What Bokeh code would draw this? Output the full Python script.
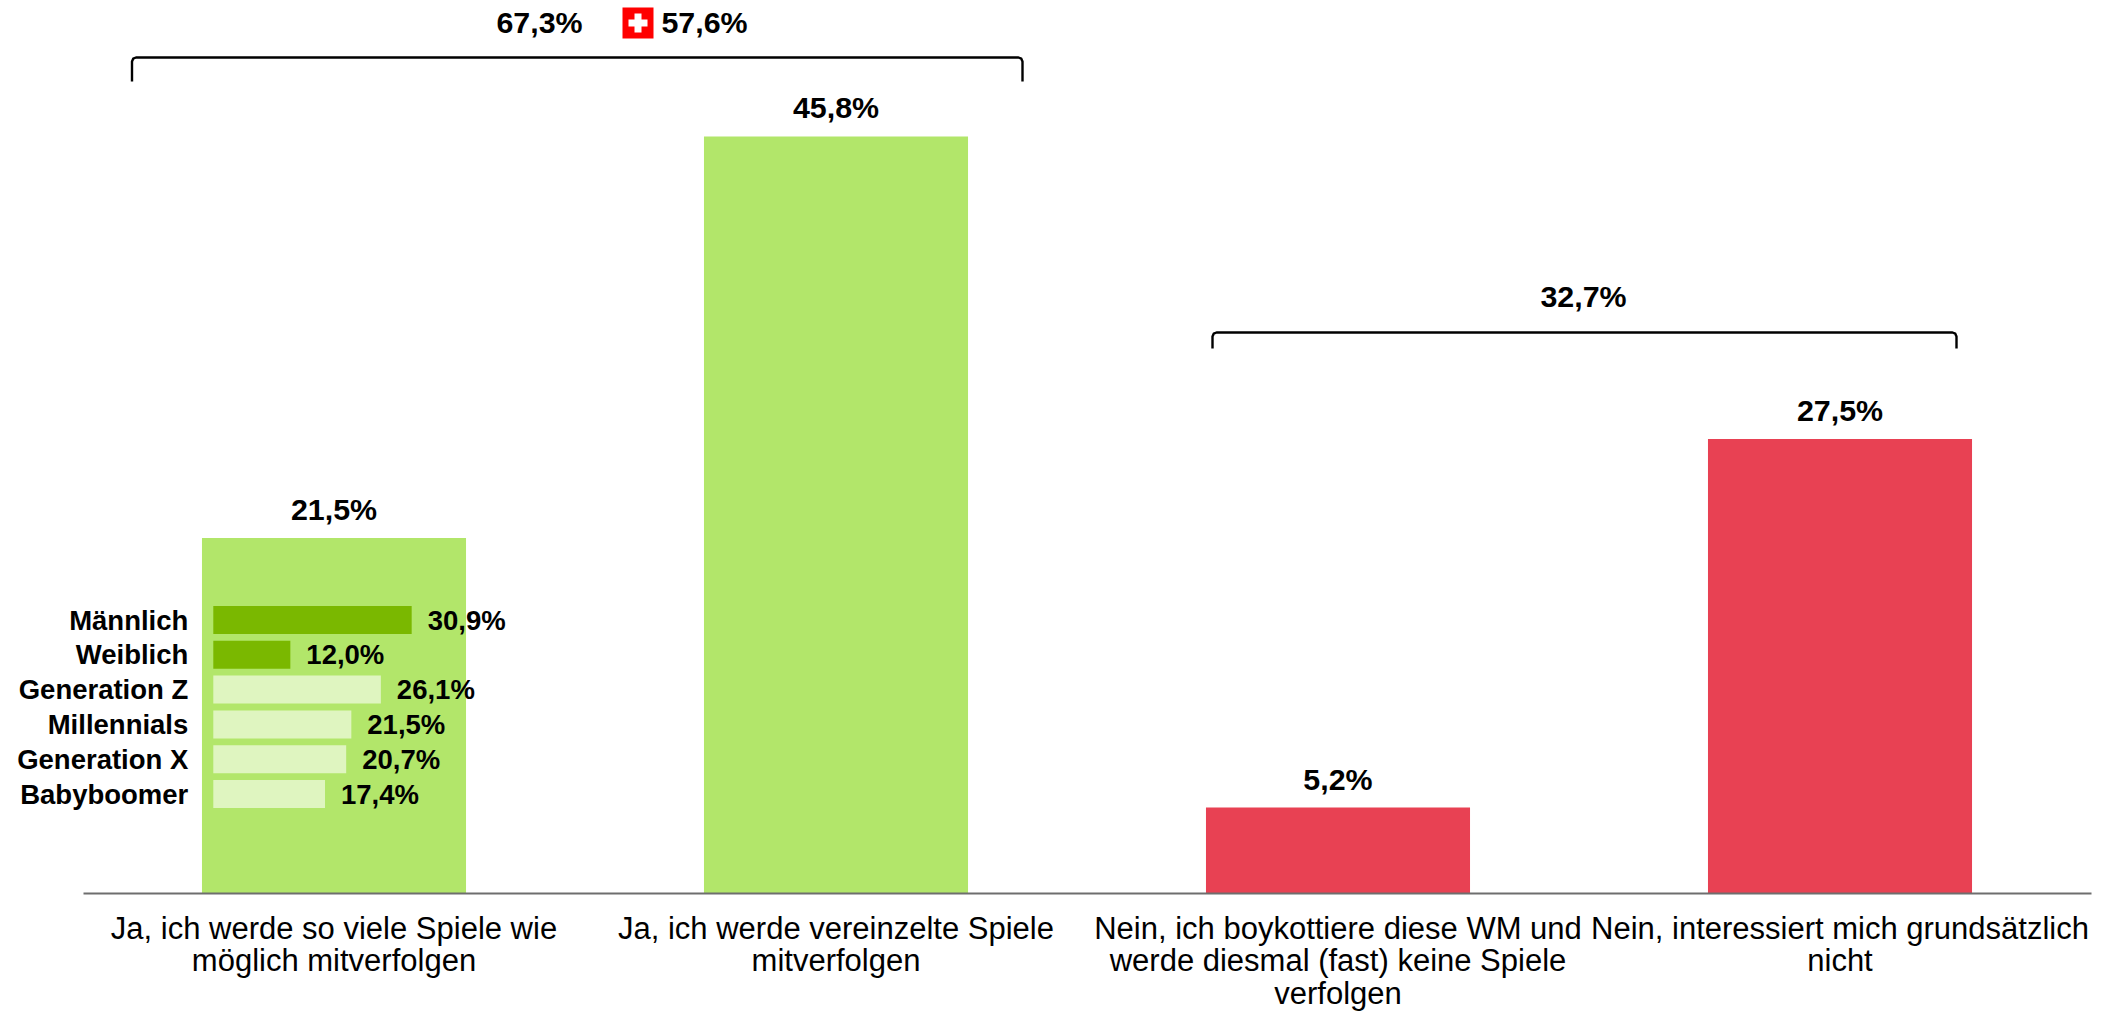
from bokeh.embed import file_html
from bokeh.resources import INLINE
from bokeh.plotting import figure
from bokeh.models import Range1d, ColumnDataSource, FixedTicker
from bokeh.core.properties import value
import numpy as np

# ---- data ----
categories = ["Ja, ich werde so viele Spiele wie\nmöglich mitverfolgen",
              "Ja, ich werde vereinzelte Spiele\nmitverfolgen",
              "Nein, ich boykottiere diese WM und\nwerde diesmal (fast) keine Spiele\nverfolgen",
              "Nein, interessiert mich grundsätzlich\nnicht"]
shares = [21.5, 45.8, 5.2, 27.5]
share_labels = ["21,5%", "45,8%", "5,2%", "27,5%"]
bar_colors = ["#B2E66A", "#B2E66A", "#E84153", "#E84153"]

groups = ["Männlich", "Weiblich", "Generation Z", "Millennials", "Generation X", "Babyboomer"]
group_shares = [30.9, 12.0, 26.1, 21.5, 20.7, 17.4]
group_labels = ["30,9%", "12,0%", "26,1%", "21,5%", "20,7%", "17,4%"]
group_colors = ["#7AB800", "#7AB800", "#DFF5C0", "#DFF5C0", "#DFF5C0", "#DFF5C0"]

total_yes, total_yes_ch, total_no = "67,3%", "57,6%", "32,7%"

FONT = value("Liberation Sans")

# ---- page geometry (page pixels) ----
W, H = 2105, 1011
B = 893                             # axis line on the page
CX0, CX_STEP = 333.5, 502           # first category centre, category step
PX_PER_PCT = 16.53                  # main bars
MINI_X0, MINI_PX = 212.8, 6.42      # small bars: zero line, px per percent
MINI_Y0, MINI_STEP = 619.5, 34.8    # small bars: first row centre, row step

p = figure(width=W, height=H, output_backend="svg", toolbar_location=None,
           x_range=Range1d((0 - CX0) / CX_STEP, (W - CX0) / CX_STEP),
           y_range=Range1d((B - H) / PX_PER_PCT, B / PX_PER_PCT),
           y_axis_location=None, outline_line_color=None, background_fill_color="white",
           min_border_left=0, min_border_right=0, min_border_top=0, min_border_bottom=0)
p.grid.visible = False

p.extra_x_ranges["page"] = Range1d(0, W)
p.extra_y_ranges["page"] = Range1d(H, 0)
p.extra_x_ranges["mini"] = Range1d((0 - MINI_X0) / MINI_PX, (W - MINI_X0) / MINI_PX)
p.extra_y_ranges["mini"] = Range1d((H - MINI_Y0) / MINI_STEP, (0 - MINI_Y0) / MINI_STEP)

# main bars
cat_pos = np.arange(len(categories))
src = ColumnDataSource(dict(x=cat_pos, y=shares, t=share_labels, c=bar_colors))
p.vbar(x="x", top="y", width=0.526, fill_color="c", line_color=None, source=src)
p.text(x="x", y="y", text="t", source=src, text_font=FONT, text_font_style="bold",
       text_font_size="30.4px", text_align="center", text_baseline="middle",
       y_offset=-29, text_color="black")

# small bars
rows = np.arange(len(groups))
mini = ColumnDataSource(dict(y=rows, w=group_shares, n=groups, t=group_labels, c=group_colors,
                             z=[0] * len(groups)))
p.hbar(y="y", right="w", left="z", height=28 / MINI_STEP, fill_color="c", line_color=None,
       source=mini, x_range_name="mini", y_range_name="mini")
p.text(x="w", y="y", text="t", source=mini, x_range_name="mini", y_range_name="mini",
       text_font=FONT, text_font_style="bold", text_font_size="27.5px",
       text_align="left", text_baseline="middle", x_offset=16, text_color="black")
p.text(x="z", y="y", text="n", source=mini, x_range_name="mini", y_range_name="mini",
       text_font=FONT, text_font_style="bold", text_font_size="27.5px",
       text_align="right", text_baseline="middle", x_offset=-25, text_color="black")

# brackets
def bracket(x0, x1, top, bottom, r=4):
    xs = [x0, x0, x0 + r * 0.3, x0 + r, x1 - r, x1 - r * 0.3, x1, x1]
    ys = [bottom, top + r, top + r * 0.3, top, top, top + r * 0.3, top + r, bottom]
    p.line(xs, ys, line_color="black", line_width=2.4, line_join="round",
           x_range_name="page", y_range_name="page")

bracket(131.5, 1022, 57, 81)
bracket(1212, 1956, 332, 348)

# bracket totals and flag
for x, y, t in [(539, 21, total_yes), (704, 21, total_yes_ch), (1583, 295, total_no)]:
    p.text(x=[x], y=[y], text=[t], x_range_name="page", y_range_name="page",
           text_font=FONT, text_font_style="bold", text_font_size="30.4px",
           text_align="center", text_baseline="middle", text_color="black")

p.quad(left=[622], right=[653], top=[7], bottom=[38], fill_color="#FF0000", line_color=None,
       x_range_name="page", y_range_name="page")
p.quad(left=[634, 628], right=[641, 647], top=[13, 19], bottom=[32, 26], fill_color="white",
       line_color=None, x_range_name="page", y_range_name="page")

# category axis, pinned at zero inside the frame
ax = p.xaxis[0]
ax.fixed_location = 0
ax.ticker = FixedTicker(ticks=[int(i) for i in cat_pos])
ax.major_label_overrides = {int(i): c for i, c in zip(cat_pos, categories)}
ax.bounds = (-0.5, 3.5)
ax.axis_line_color = "#6E6E6E"
ax.axis_line_width = 2
ax.major_tick_line_color = None
ax.minor_tick_line_color = None
ax.major_tick_in = 0
ax.major_tick_out = 0
ax.major_label_standoff = 17
ax.major_label_text_font = "Liberation Sans"
ax.major_label_text_font_size = "31px"
ax.major_label_text_color = "black"
ax.major_label_text_line_height = 0.93
ax.major_label_orientation = "horizontal"

open("out.html", "w").write(file_html(p, INLINE))
